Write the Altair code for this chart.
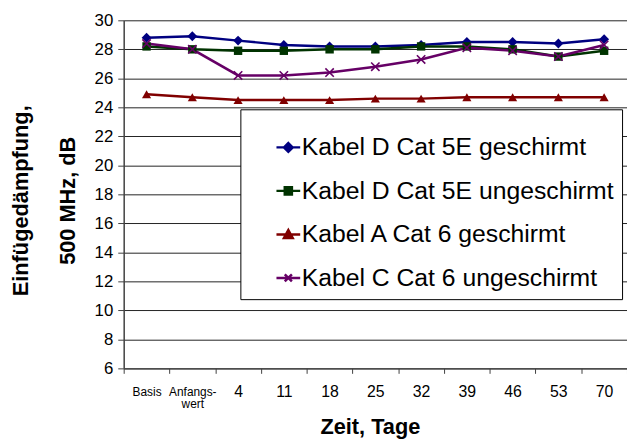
import altair as alt
import pandas as pd

categories = ["Basis", "Anfangswert", "4", "11", "18", "25", "32", "39", "46", "53", "70"]
series_names = [
    "Kabel D Cat 5E geschirmt",
    "Kabel D Cat 5E ungeschirmt",
    "Kabel A Cat 6 geschirmt",
    "Kabel C Cat 6 ungeschirmt",
]
d5e_geschirmt = [28.8, 28.9, 28.6, 28.3, 28.2, 28.2, 28.3, 28.5, 28.5, 28.4, 28.7]
d5e_ungeschirmt = [28.2, 28.0, 27.9, 27.9, 28.0, 28.0, 28.2, 28.2, 28.0, 27.5, 27.9]
a6_geschirmt = [24.9, 24.7, 24.5, 24.5, 24.5, 24.6, 24.6, 24.7, 24.7, 24.7, 24.7]
c6_ungeschirmt = [28.4, 28.0, 26.2, 26.2, 26.4, 26.8, 27.3, 28.1, 27.9, 27.5, 28.3]
y_ticks = list(range(6, 31, 2))

colors = ["#000080", "#003300", "#800000", "#660066"]
plot_shapes = ["diamond", "square", "triangle-up", "M-1,-1L1,1M-1,1L1,-1"]
plot_sizes = [100, 72, 85, 72]
legend_paths = [
    "M-3,0L3,0M0,-1.1L1.1,0L0,1.1L-1.1,0Z",
    "M-3,0L3,0M-0.9,-0.9L0.9,-0.9L0.9,0.9L-0.9,0.9Z",
    "M-3,0L3,0M0,-1.1L1.1,0.9L-1.1,0.9Z",
    "M-3,0L3,0M-0.9,-0.9L0.9,0.9M-0.9,0.9L0.9,-0.9",
]

rows = []
for name, vals in zip(series_names, [d5e_geschirmt, d5e_ungeschirmt, a6_geschirmt, c6_ungeschirmt]):
    for i, (c, v) in enumerate(zip(categories, vals)):
        rows.append({"series": name, "tag": c, "idx": i, "value": v})
df = pd.DataFrame(rows)

color_scale = alt.Scale(domain=series_names, range=colors)
x_enc = alt.X(
    "tag:N",
    sort=categories,
    scale=alt.Scale(type="band", domain=categories, paddingInner=0, paddingOuter=0),
    axis=alt.Axis(
        title="Zeit, Tage",
        labelAngle=0,
        tickBand="extent",
        tickSize=5,
        labelPadding=18,
        labelBaseline="middle",
        labelLineHeight=13,
        labelExpr="datum.value == 'Anfangswert' ? ['Anfangs-', 'wert'] : datum.value",
        labelFontSize={
            "condition": {"test": "datum.value == 'Basis' || datum.value == 'Anfangswert'", "value": 12},
            "value": 16,
        },
        titleFontSize=22,
        titleX=249,
        titleY=66,
        titleBaseline="alphabetic",
    ),
)
y_enc = alt.Y(
    "value:Q",
    scale=alt.Scale(domain=[6, 30], nice=False, zero=False),
    axis=alt.Axis(
        values=y_ticks,
        title=["Einfügedämpfung,", "500 MHz, dB"],
        titleFontSize=22,
        titleLineHeight=47,
        titleX=-104,
        titleY=182,
        titleAlign="center",
        titleBaseline="middle",
        titleAngle=270,
        labelFontSize=17,
        tickSize=6,
        labelPadding=5,
        grid=True,
    ),
)

base = alt.Chart(df)

leg = alt.Legend(
    title=" ",
    titleFontSize=12,
    titlePadding=6,
    orient="none",
    legendX=118,
    legendY=90,
    fillColor="white",
    strokeColor="black",
    padding=8,
    labelFontSize=25,
    labelLimit=500,
    labelOffset=1,
    symbolOffset=28,
    rowPadding=18,
    symbolSize=64,
    symbolStrokeWidth=2.5,
)
legend_layer = base.transform_filter("false").mark_point(
    filled=True, size=64, strokeWidth=2.5, opacity=1
).encode(
    color=alt.Color("series:N", scale=color_scale, legend=leg),
    stroke=alt.Stroke("series:N", scale=alt.Scale(domain=series_names, range=colors), legend=leg),
    shape=alt.Shape("series:N", scale=alt.Scale(domain=series_names, range=legend_paths), legend=leg),
)

lines = base.mark_line(strokeWidth=2.5).encode(
    x=x_enc,
    y=y_enc,
    color=alt.Color("series:N", scale=color_scale, legend=None),
    order="idx:Q",
)

layers = [legend_layer, lines]
for name, shp, sz in zip(series_names, plot_shapes, plot_sizes):
    filled = not shp.startswith("M")
    pts = base.transform_filter(alt.datum.series == name).mark_point(
        shape=shp, filled=filled, size=sz, opacity=1, strokeWidth=1.6
    ).encode(
        x=x_enc,
        y=y_enc,
        color=alt.Color("series:N", scale=color_scale, legend=None),
    )
    layers.append(pts)

chart = alt.layer(*layers).properties(
    width=509,
    height=352,
    padding={"left": 117, "top": 10, "right": 0, "bottom": 72},
    autosize=alt.AutoSizeParams(type="none"),
).configure(
    font="Liberation Sans",
).configure_axis(
    labelFont="Liberation Sans",
    titleFont="Liberation Sans",
    labelColor="black",
    titleColor="black",
    titleFontWeight="bold",
    domainColor="#404040",
    domainWidth=1.5,
    tickColor="#404040",
    gridColor="#222222",
    gridWidth=1,
).configure_axisX(grid=False).configure_legend(
    labelFont="Liberation Sans",
    labelColor="black",
).configure_view(stroke=None)

chart.save("out.html", embed_options={"renderer": "svg", "actions": False})
